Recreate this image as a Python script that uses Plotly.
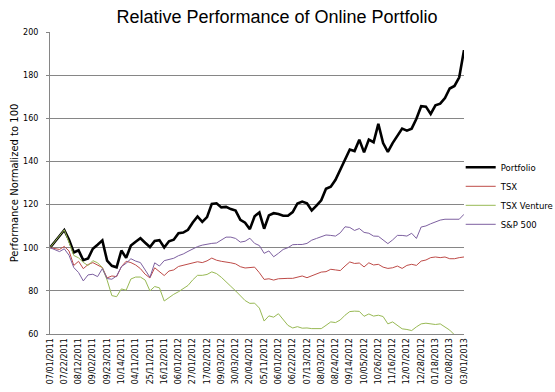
import plotly.graph_objects as go

tick_labels = ["07/01/2011", "07/22/2011", "08/12/2011", "09/02/2011", "09/23/2011", "10/14/2011",
               "04/11/2011", "25/11/2011", "16/12/2011", "06/01/2012", "27/01/2012", "17/02/2012",
               "09/03/2012", "30/03/2012", "20/04/2012", "05/11/2012", "06/01/2012", "06/22/2012",
               "07/13/2012", "08/03/2012", "08/24/2012", "09/14/2012", "10/05/2012", "10/26/2012",
               "11/16/2012", "12/07/2012", "12/28/2012", "01/18/2013", "02/08/2013", "03/01/2013"]

portfolio = [100, 102.8, 105.5, 108.2, 103.7, 97.8, 98.8, 94.2, 95, 99.5,
             101.4, 103.4, 94, 91.6, 90.9, 98.7, 95.3, 101, 102.8, 104.4,
             102.3, 100.3, 103.1, 103.5, 100.1, 103, 103.7, 106.7, 107, 108.3,
             111.7, 114.5, 112, 114.2, 120.3, 120.6, 118.7, 118.9, 117.9, 117.2,
             112.9, 111.6, 108.6, 114.6, 116.3, 108.8, 115, 116, 115.6, 114.8,
             114.8, 116.5, 120.5, 121.4, 120.6, 117.3, 119.5, 122, 127.3, 128.3,
             131.5, 136, 141, 145.5, 144.8, 150.1, 144.2, 150.1, 148.9, 157.4,
             148.5, 144.4, 148.5, 151.6, 155.2, 154.3, 155.2, 159.8, 165.6, 165.4,
             162, 166, 166.8, 169.4, 173.8, 175, 179, 191.6]

tsx = [100, 99.5, 99.2, 100.6, 98.5, 91.8, 93.7, 90.3, 92.2, 93.1,
       91.8, 90.8, 86, 86.9, 86.6, 91.2, 93.7, 93.1, 92, 90.3,
       87.7, 86, 90.7, 88.9, 87.1, 89.2, 89.7, 91.3, 91.8, 92.5,
       93, 93.5, 93.1, 93.9, 95.2, 94.2, 93.7, 93.5, 93, 92.5,
       91.2, 90.6, 90.9, 91, 88.4, 85.3, 85.6, 85, 85.6, 85.8,
       85.8, 85.8, 86.4, 86.9, 86.1, 86.9, 87.7, 88.7, 88.9, 90,
       89.7, 89.4, 91.5, 93.4, 92.7, 92.9, 91.1, 93, 92, 92.3,
       91, 90.4, 90.7, 91.5, 90.4, 91.8, 92.3, 91.8, 93.8, 94.3,
       95.4, 95.7, 95.4, 95.7, 94.9, 94.9, 95.4, 95.7]

tsx_venture = [100, 102.8, 105.5, 108.3, 102.5, 96.4, 95.3, 93.2, 91.7, 94,
               93, 90.8, 85, 77.8, 77.3, 80.9, 80.3, 85.5, 86.4, 86.4,
               85, 80, 82, 81.4, 75.3, 77, 78.4, 79.6, 81, 82.5,
               85.1, 87.2, 87.2, 87.6, 88.8, 88, 86.3, 84.4, 82.1, 80,
               77.8, 75.5, 74.2, 74.3, 72, 66, 68.4, 67.8, 69.4, 66.5,
               64, 62.8, 63.4, 62.7, 62.8, 62.5, 62.5, 62.5, 64, 65.6,
               65.3, 66.5, 68.7, 70.4, 70.6, 70.5, 68.2, 69.3, 68.3, 68.7,
               68.1, 64.7, 65.6, 63.9, 62.4, 62.1, 61.6, 63.3, 64.7, 65,
               64.7, 64.4, 64.7, 63.3, 61.8, 59.6, 58.5, 58]

sp500 = [100, 99.2, 98.2, 99.5, 96.5, 90.8, 88.5, 84.6, 87.4, 87.7,
         86.6, 90.3, 85.7, 85.4, 86.9, 91.2, 92.8, 94.9, 93.8, 93.1,
         89.7, 86.3, 93, 91.5, 94, 94.6, 95.1, 96.3, 97.1, 98.3,
         99.5, 100.5, 101.2, 101.7, 102, 102.2, 103.5, 104.9, 104.9, 104.3,
         102.6, 103, 104.4, 102, 101, 97.4, 98.5, 95.8, 97.4, 99.2,
         100, 101.4, 101.5, 101.5, 102, 103.5, 104.3, 105.1, 105.9, 105.7,
         105.4, 106.9, 109.7, 109.4, 108, 108.9, 107.1, 106.7, 105.4, 105.3,
         103.6, 101.9, 103.6, 105.7, 105.7, 105.4, 106.7, 104.3, 109.6, 110.1,
         111.1, 112.1, 112.8, 113.2, 113.2, 113.2, 113.2, 115.5]

series_names = ["Portfolio", "TSX", "TSX Venture", "S&P 500"]
series_values = [portfolio, tsx, tsx_venture, sp500]
series_colors = ["#000000", "#BE4B48", "#98B954", "#7D60A0"]
series_widths = [2.6, 1, 1, 1]

weeks = list(range(len(portfolio)))
label_weeks = weeks[::3]

fig = go.Figure()
for name, vals, col, w in zip(series_names, series_values, series_colors, series_widths):
    fig.add_trace(go.Scatter(x=weeks, y=vals, mode="lines", name=name,
                             line=dict(color=col, width=w)))

fig.update_layout(
    width=575, height=392,
    margin=dict(l=50, r=111, t=32, b=58),
    paper_bgcolor="white", plot_bgcolor="white",
    title=dict(text="Relative Performance of Online Portfolio", x=277 / 575, xanchor="center",
               y=1 - 17 / 392, yanchor="middle",
               font=dict(family="Liberation Sans, Arial", size=18, color="black")),
    showlegend=True,
    legend=dict(x=0.992, y=0.6, xanchor="left", yanchor="top",
                font=dict(family="DejaVu Sans", size=8.5, color="black"),
                bgcolor="rgba(0,0,0,0)", itemwidth=30, tracegroupgap=0),
    font=dict(family="DejaVu Sans", size=8, color="black"),
)

fig.update_xaxes(
    range=[0, len(portfolio) - 1], tickmode="array", tickvals=label_weeks, ticktext=tick_labels,
    tickangle=-90, showgrid=False, zeroline=False, showline=True, linecolor="#868686",
    linewidth=1, ticks="", tickfont=dict(family="DejaVu Sans", size=8, color="black"),
    automargin=False,
)
fig.update_yaxes(
    range=[60, 200], tickmode="array", tickvals=[60, 80, 100, 120, 140, 160, 180, 200],
    showgrid=True, gridcolor="#868686", gridwidth=1, zeroline=False,
    showline=True, linecolor="#868686", linewidth=1, ticks="outside", ticklen=3,
    tickcolor="#868686", ticklabelstandoff=6,
    tickfont=dict(family="DejaVu Sans", size=8, color="black"),
    title=dict(text="Performance Normalized to 100", standoff=2,
               font=dict(family="DejaVu Sans", size=10, color="black")),
    automargin=False,
)

fig.write_html(
    "out.html",
    config={"displayModeBar": False},
    post_script="document.body.style.margin='0px';document.body.style.overflow='hidden';",
)
